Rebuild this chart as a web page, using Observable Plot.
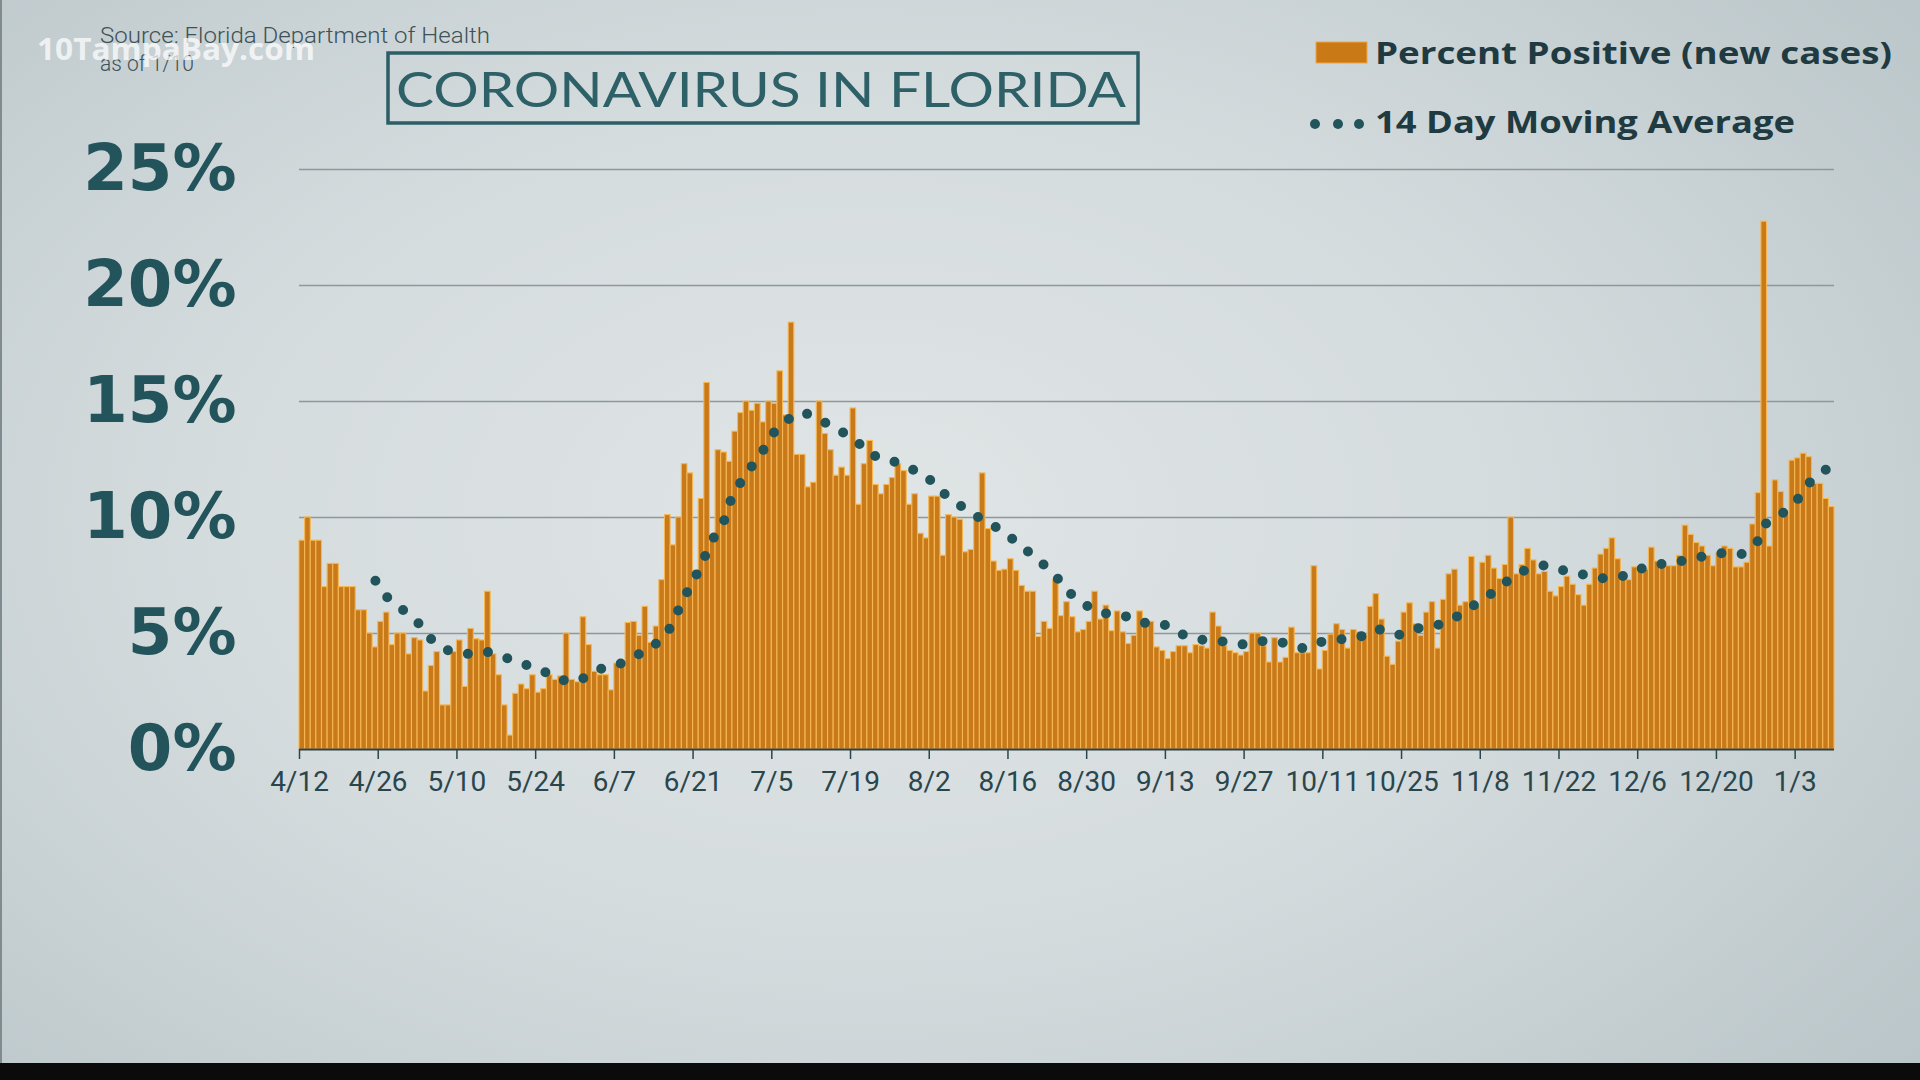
<!DOCTYPE html>
<html>
<head>
<meta charset="utf-8">
<script src="https://cdn.jsdelivr.net/npm/d3@7"></script>
<script src="https://cdn.jsdelivr.net/npm/@observablehq/plot@0.6"></script>
<style>
  html, body { margin: 0; padding: 0; }
  body {
    width: 1920px; height: 1080px; overflow: hidden; position: relative;
    background: radial-gradient(ellipse 75% 85% at 45% 48%, #e0e5e6 0%, #d5dcde 45%, #b7c3c7 100%);
  }
  #chart { position: absolute; left: 0; top: 0; }
  #header { position: absolute; left: 0; top: 0; }
  #bottomstrip { position: absolute; left: 0; top: 1063px; width: 1920px; height: 17px; background: #0b0b0b; }
  #leftedge { position: absolute; left: 0; top: 0; width: 2px; height: 1063px; background: #7f8b8f; }
</style>
</head>
<body>
<div id="leftedge"></div>
<svg id="header" width="1920" height="150" xmlns="http://www.w3.org/2000/svg">
  <text x="100" y="43" font-family="Roboto" font-weight="300" font-size="22" fill="#3e5157" textLength="390" lengthAdjust="spacingAndGlyphs">Source: Florida Department of Health</text>
  <text x="100" y="71" font-family="Roboto" font-weight="300" font-size="22" fill="#3e5157" textLength="94" lengthAdjust="spacingAndGlyphs">as of 1/10</text>
  <text x="37" y="60" font-family="Open Sans" font-weight="700" font-size="31" fill="#ffffff" fill-opacity="0.72" textLength="278" lengthAdjust="spacingAndGlyphs">10TampaBay.com</text>
  <rect x="388" y="53" width="750" height="70" fill="none" stroke="#2c5e66" stroke-width="3.5"></rect>
  <text x="396" y="107" font-family="Lato" font-weight="400" font-size="49" fill="#2e6068" textLength="730" lengthAdjust="spacingAndGlyphs">CORONAVIRUS IN FLORIDA</text>
  <rect x="1316" y="42" width="51" height="21" fill="#c97a17" stroke="#f0a443" stroke-width="1"></rect>
  <text x="1375" y="64" font-family="Open Sans" font-weight="700" font-size="31" fill="#1f3a40" textLength="517" lengthAdjust="spacingAndGlyphs">Percent Positive (new cases)</text>
  <circle cx="1315" cy="124" r="5" fill="#22545c"></circle>
  <circle cx="1338" cy="124" r="5" fill="#22545c"></circle>
  <circle cx="1359" cy="124" r="5" fill="#22545c"></circle>
  <text x="1375" y="133" font-family="Open Sans" font-weight="700" font-size="31" fill="#1f3a40" textLength="420" lengthAdjust="spacingAndGlyphs">14 Day Moving Average</text>
</svg>
<div id="chart"></div>
<div id="bottomstrip"></div>
<script>
// ---- data ----
const startDate = "2020-04-12";
const endDate = "2021-01-10";

// daily percent positive (new cases), 4/12/2020 .. 1/9/2021
const positivity = [
  9.0,10.0,9.0,9.0,7.0,8.0,8.0,7.0,7.0,7.0,6.0,6.0,5.0,4.4,
  5.5,5.9,4.5,5.0,5.0,4.1,4.8,4.7,2.5,3.6,4.2,1.9,1.9,4.2,
  4.7,2.7,5.2,4.75,4.7,6.8,4.1,3.2,1.9,0.6,2.4,2.8,2.6,3.2,
  2.45,2.6,3.2,3.0,3.15,5.0,3.0,2.9,5.7,4.5,3.35,3.2,3.2,2.55,
  3.7,3.7,5.45,5.5,4.9,6.15,4.6,5.3,7.3,10.1,8.8,10.0,12.3,11.9,
  7.7,10.8,15.8,9.0,12.9,12.8,12.4,13.7,14.5,15.0,14.6,14.9,14.1,15.0,
  14.9,16.3,14.4,18.4,12.7,12.7,11.3,11.5,15.0,13.6,12.9,11.8,12.15,11.8,
  14.7,10.55,12.3,13.3,11.4,11.0,11.4,11.7,12.3,12.0,10.55,11.0,9.3,9.1,
  10.9,10.9,8.35,10.1,10.0,9.9,8.5,8.6,10.1,11.9,9.5,8.1,7.7,7.75,
  8.2,7.7,7.05,6.8,6.8,4.85,5.5,5.2,7.3,5.75,6.35,5.7,5.05,5.15,
  5.5,6.8,5.6,6.2,5.1,5.95,5.05,4.55,4.9,5.95,5.5,5.5,4.4,4.25,
  3.9,4.2,4.45,4.45,4.15,4.5,4.45,4.35,5.9,5.3,4.45,4.25,4.15,4.05,
  4.2,5.0,5.0,4.45,3.75,4.8,3.75,3.95,5.25,4.15,4.15,4.15,7.9,3.45,
  4.25,4.95,5.4,5.15,4.35,5.15,5.05,4.9,6.15,6.7,5.6,4.0,3.65,4.65,
  5.9,6.3,5.4,4.9,5.9,6.35,4.35,6.45,7.55,7.75,6.2,6.35,8.3,6.15,
  8.05,8.35,7.8,7.35,7.95,10.0,7.55,7.95,8.65,8.15,7.55,7.65,6.8,6.6,
  7.0,7.45,7.1,6.65,6.2,7.1,7.8,8.4,8.65,9.1,8.2,7.5,7.3,7.85,
  7.75,7.75,8.7,8.1,7.95,7.9,7.9,8.35,9.65,9.25,8.9,8.75,8.35,7.9,
  8.45,8.75,8.65,7.85,7.85,8.05,9.7,11.05,22.75,8.75,11.6,11.1,10.1,12.45,
  12.55,12.75,12.6,11.45,11.45,10.8,10.45
];

// 14-day moving average (read at the dots)
const maDates = ["2020-04-25","2020-04-27","2020-04-30","2020-05-03","2020-05-05","2020-05-08","2020-05-12","2020-05-15","2020-05-19","2020-05-22","2020-05-25","2020-05-28","2020-05-31","2020-06-04","2020-06-07","2020-06-10","2020-06-13","2020-06-16","2020-06-19","2020-06-21","2020-06-24","2020-06-26","2020-06-27","2020-06-29","2020-07-01","2020-07-03","2020-07-05","2020-07-07","2020-07-10","2020-07-13","2020-07-16","2020-07-19","2020-07-22","2020-07-25","2020-07-28","2020-08-01","2020-08-03","2020-08-06","2020-08-09","2020-08-12","2020-08-15","2020-08-18","2020-08-21","2020-08-24","2020-08-26","2020-08-29","2020-09-01","2020-09-05","2020-09-08","2020-09-12","2020-09-15","2020-09-19","2020-09-22","2020-09-26","2020-09-29","2020-10-03","2020-10-07","2020-10-10","2020-10-13","2020-10-17","2020-10-20","2020-10-24","2020-10-27","2020-10-31","2020-11-03","2020-11-06","2020-11-09","2020-11-12","2020-11-15","2020-11-19","2020-11-22","2020-11-26","2020-11-29","2020-12-03","2020-12-06","2020-12-10","2020-12-13","2020-12-17","2020-12-21","2020-12-24","2020-12-27","2020-12-28","2020-12-31","2021-01-03","2021-01-05","2021-01-08"];
const maValues = [7.27,6.58,6.00,5.37,4.73,4.26,4.10,4.20,3.89,3.63,3.36,2.99,2.94,3.47,3.63,4.00,4.36,5.05,6.58,7.48,9.06,9.85,10.64,11.54,12.23,12.91,13.71,14.18,14.55,14.23,13.81,13.44,12.70,12.54,12.23,11.81,11.23,10.70,10.17,9.80,9.33,8.74,8.16,7.48,6.84,6.26,5.89,5.79,5.47,5.42,5.00,4.73,4.68,4.52,4.68,4.63,4.36,4.63,4.73,4.84,5.21,4.94,5.21,5.37,5.68,6.16,6.63,7.21,7.69,7.95,7.74,7.53,7.37,7.48,7.79,8.01,8.11,8.32,8.48,8.43,9.01,9.69,10.12,10.80,11.49,12.07];

// x tick positions and y tick values
const tickDates = ["2020-04-12","2020-04-26","2020-05-10","2020-05-24","2020-06-07","2020-06-21","2020-07-05","2020-07-19","2020-08-02","2020-08-16","2020-08-30","2020-09-13","2020-09-27","2020-10-11","2020-10-25","2020-11-08","2020-11-22","2020-12-06","2020-12-20","2021-01-03"];
const yTicks = [0, 5, 10, 15, 20, 25];

// ---- build tables ----
const DAY = 864e5;
const t0 = Date.parse(startDate + "T00:00:00Z");
const bars = positivity.map((v, i) => ({start: new Date(t0 + i * DAY), end: new Date(t0 + (i + 1) * DAY), v}));
const ma = maDates.map((d, i) => ({date: new Date(Date.parse(d + "T12:00:00Z")), v: maValues[i]}));
const ticks = tickDates.map(d => new Date(d + "T00:00:00Z"));

const chart = Plot.plot({
  width: 1920,
  height: 809,
  marginLeft: 299,
  marginRight: 86,
  marginTop: 169,
  marginBottom: 60,
  style: {background: "transparent", overflow: "visible"},
  x: {type: "utc", domain: [new Date(startDate + "T00:00:00Z"), new Date(endDate + "T00:00:00Z")]},
  y: {domain: [0, 25]},
  marks: [
    Plot.ruleY([5, 10, 15, 20, 25], {stroke: "#8e989c", strokeWidth: 1.6}),
    Plot.rectY(bars, {x1: "start", x2: "end", y: "v", fill: "#c8791a", stroke: "#f6b752", strokeWidth: 1.1}),
    Plot.ruleY([0], {stroke: "#2f3f44", strokeWidth: 2}),
    Plot.axisX({
      ticks,
      tickFormat: d => `${d.getUTCMonth() + 1}/${d.getUTCDate()}`,
      tickSize: 10, tickPadding: 12,
      fontSize: 28, fontFamily: "Roboto", fontWeight: 400,
      color: "#2a464d", strokeWidth: 1.5, label: null
    }),
    Plot.axisY({
      ticks: yTicks,
      tickFormat: d => d + "%",
      tickSize: 0, tickPadding: 63,
      fontSize: 64, fontFamily: "DejaVu Sans", fontWeight: "bold",
      color: "#23535b", label: null
    }),
    Plot.line(ma, {x: "date", y: "v", stroke: "#22545c", strokeWidth: 10, strokeLinecap: "round", strokeDasharray: "0 20.3"})
  ]
});
document.getElementById("chart").append(chart);
</script>
</body>
</html>
